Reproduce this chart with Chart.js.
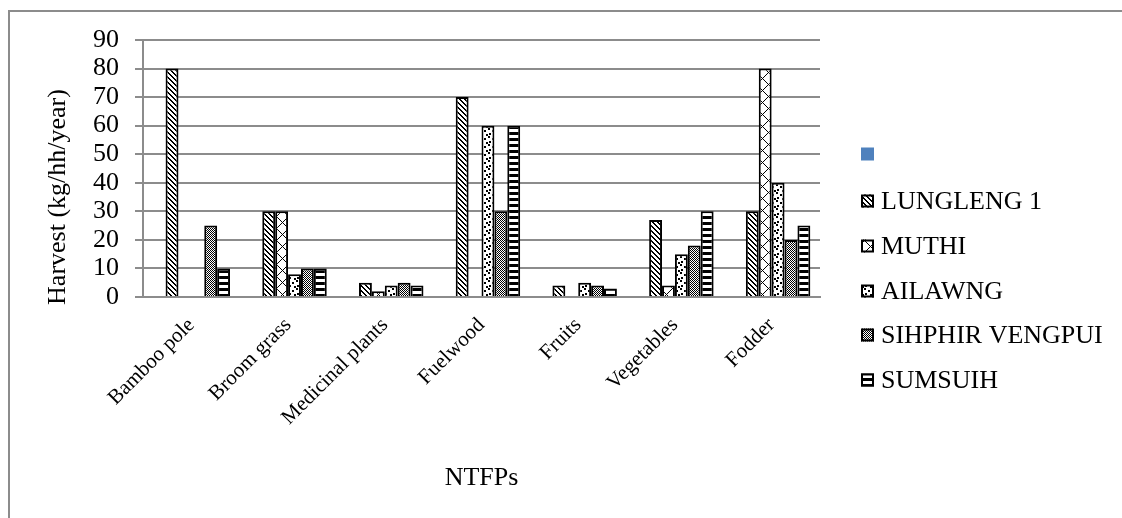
<!DOCTYPE html>
<html>
<head>
<meta charset="utf-8">
<script src="https://cdn.jsdelivr.net/npm/chart.js@4.4.1/dist/chart.umd.min.js"></script>
<style>
  html, body { margin: 0; padding: 0; background: #fff; overflow: hidden; }
  #wrap { position: relative; width: 1122px; height: 518px; }
  #frame { position: absolute; left: 8px; top: 10px; width: 1300px; height: 700px; border: 2px solid #8c8c8c; box-sizing: border-box; pointer-events: none; }
  canvas { position: absolute; left: 0; top: 0; }
</style>
</head>
<body>
<div id="wrap">
  <div id="frame"></div>
  <canvas id="c" width="1122" height="518"></canvas>
</div>
<script>
// ---- data ----
const categories = ['Bamboo pole', 'Broom grass', 'Medicinal plants', 'Fuelwood', 'Fruits', 'Vegetables', 'Fodder'];
const seriesNames = ['', 'LUNGLENG 1', 'MUTHI', 'AILAWNG', 'SIHPHIR VENGPUI', 'SUMSUIH'];
const blankSeries = [null, null, null, null, null, null, null];
const lungleng1 = [80, 30, 5, 70, 4, 27, 30];
const muthi = [0, 30, 2, 0, 0, 4, 80];
const ailawng = [0, 8, 4, 60, 5, 15, 40];
const sihphirVengpui = [25, 10, 5, 30, 4, 18, 20];
const sumsuih = [10, 10, 4, 60, 3, 30, 25];
const yTickLabels = ['0', '10', '20', '30', '40', '50', '60', '70', '80', '90'];
const yTitle = 'Harvest (kg/hh/year)';
const xTitle = 'NTFPs';

const FONT = "'Liberation Serif', 'Times New Roman', serif";

// ---- patterns ----
function tile(w, h, fn) {
  const cv = document.createElement('canvas');
  cv.width = w; cv.height = h;
  const g = cv.getContext('2d');
  g.fillStyle = '#fff'; g.fillRect(0, 0, w, h);
  g.fillStyle = '#000';
  for (let y = 0; y < h; y++) for (let x = 0; x < w; x++) if (fn(x, y)) g.fillRect(x, y, 1, 1);
  return cv;
}
const ctx = document.getElementById('c').getContext('2d');
const mod = (a, n) => ((a % n) + n) % n;
const patDiag = ctx.createPattern(tile(5, 5, (x, y) => mod(x - y, 5) < 2), 'repeat');
const patCross = ctx.createPattern(tile(12, 12, (x, y) => mod(x - y, 12) === 0 || mod(x + y, 12) === 0), 'repeat');
const confetti = [[0,0],[4,2],[1,5],[6,6]];
const patConfetti = ctx.createPattern(tile(8, 8, (x, y) => confetti.some(([a, b]) => (x === a || x === a + 1) && (y === b || y === b + 1))), 'repeat');
const patChecker = ctx.createPattern(tile(2, 2, (x, y) => (x + y) % 2 === 0), 'repeat');
const patHoriz = ctx.createPattern(tile(6, 6, (x, y) => y < 3), 'repeat');

const fills = ['#4F81BD', patDiag, patCross, patConfetti, patChecker, patHoriz];
const seriesData = [blankSeries, lungleng1, muthi, ailawng, sihphirVengpui, sumsuih];

const datasets = seriesData.map((d, i) => ({
  label: seriesNames[i],
  data: d,
  backgroundColor: fills[i],
  borderColor: i === 0 ? '#4F81BD' : '#000',
  borderWidth: i === 0 ? 0 : 2,
  categoryPercentage: 0.8,
  barPercentage: 1.0
}));

// custom legend
const legendPlugin = {
  id: 'customLegend',
  afterDraw(chart) {
    const c = chart.ctx;
    c.save();
    const x0 = 861, box = 13;
    const ys = [154, 201, 246, 291, 335, 380];
    chart.data.datasets.forEach((ds, i) => {
      const yc = ys[i];
      c.fillStyle = ds.backgroundColor;
      c.fillRect(x0, yc - box / 2, box, box);
      if (i > 0) {
        c.strokeStyle = '#000';
        c.lineWidth = 2;
        c.strokeRect(x0 + 1, yc - box / 2 + 1, box - 2, box - 2);
      }
      c.fillStyle = '#000';
      c.font = '26px ' + FONT;
      c.textBaseline = 'middle';
      c.textAlign = 'left';
      c.fillText(ds.label, x0 + 20, yc + 1);
    });
    c.restore();
  }
};

// y title drawn at its place
const yTitlePlugin = {
  id: 'yTitle',
  afterDraw(chart) {
    const c = chart.ctx;
    c.save();
    c.translate(58, 197);
    c.rotate(-Math.PI / 2);
    c.font = '26px ' + FONT;
    c.fillStyle = '#000';
    c.textAlign = 'center';
    c.textBaseline = 'middle';
    c.fillText(yTitle, 0, 0);
    c.restore();
  }
};

new Chart(ctx, {
  type: 'bar',
  data: { labels: categories, datasets },
  plugins: [legendPlugin, yTitlePlugin],
  options: {
    responsive: false,
    animation: false,
    events: [],
    layout: { padding: { left: 20, right: 302, top: 40, bottom: 20 } },
    plugins: { legend: { display: false }, tooltip: { enabled: false } },
    scales: {
      x: {
        grid: { display: false },
        border: { display: true, color: '#8c8c8c', width: 2 },
        ticks: {
          autoSkip: false, minRotation: 45, maxRotation: 45, padding: 8,
          color: '#000', font: { family: FONT, size: 21 }
        },
        title: { display: true, text: xTitle, color: '#000', font: { family: FONT, size: 26 }, padding: { top: 0, bottom: 4 } },
        afterFit(s) { s.height = 518 - 297 - 20; }
      },
      y: {
        min: 0, max: 90,
        grid: { color: '#8c8c8c', lineWidth: 2, tickLength: 8, drawTicks: true },
        border: { display: true, color: '#8c8c8c', width: 2 },
        ticks: {
          autoSkip: false, stepSize: 10, padding: 16, color: '#000', font: { family: FONT, size: 26 },
          callback: (v, i) => yTickLabels[i]
        },
        afterFit(s) { s.width = 123; }
      }
    }
  }
});
</script>
</body>
</html>
